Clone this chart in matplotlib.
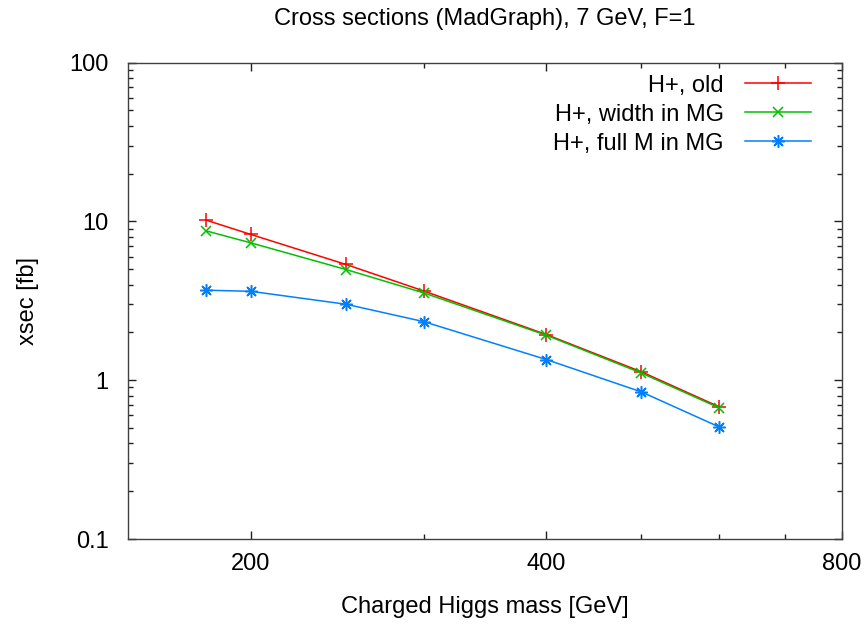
import matplotlib
matplotlib.use("Agg")
import matplotlib.pyplot as plt
from matplotlib.ticker import FixedLocator, NullFormatter

plt.rcParams['font.family'] = ['Liberation Sans', 'DejaVu Sans']

# charged Higgs masses [GeV] and cross sections [fb]
mass = [180, 200, 250, 300, 400, 500, 600]
xsec_old = [10.2, 8.28, 5.36, 3.65, 1.94, 1.13, 0.68]
xsec_width = [8.73, 7.33, 4.98, 3.55, 1.92, 1.11, 0.67]
xsec_full = [3.69, 3.63, 3.01, 2.34, 1.35, 0.844, 0.508]

labels = ["H+, old", "H+, width in MG", "H+, full M in MG"]
colors = ["#ff0000", "#00c000", "#0080ff"]

x_major = [200, 400, 800]
x_minor = [300, 500, 600, 700]

fig = plt.figure(figsize=(8.65, 6.25), dpi=100)
ax = fig.add_axes([0.1483, 0.1376, 0.8248, 0.7621])

ax.plot(mass, xsec_old, color=colors[0], lw=1.1, marker='+', ms=10, mew=1.1, label=labels[0])
ax.plot(mass, xsec_width, color=colors[1], lw=1.1, marker='x', ms=7.5, mew=1.1, label=labels[1])
ax.plot(mass, xsec_full, color=colors[2], lw=1.1, marker=(8, 2, 0), ms=9, mew=1.1, label=labels[2])

ax.set_xscale('log')
ax.set_yscale('log')
ax.set_xlim(150, 800)
ax.set_ylim(0.1, 100)

ax.xaxis.set_major_locator(FixedLocator(x_major))
ax.xaxis.set_minor_locator(FixedLocator(x_minor))
ax.xaxis.set_minor_formatter(NullFormatter())
ax.set_xticklabels([str(v) for v in x_major])
ax.set_yticks([0.1, 1, 10, 100])
ax.set_yticklabels(["0.1", "1", "10", "100"])

fs = 17
ax.tick_params(which='both', direction='in', top=True, right=True, labelsize=fs, color='#202020')
ax.tick_params(which='major', length=6, width=1)
ax.tick_params(which='minor', length=3.5, width=1)
ax.tick_params(axis='x', pad=10)
ax.tick_params(axis='y', pad=14)
for s in ax.spines.values():
    s.set_color('#404040')
    s.set_linewidth(1)

ax.set_title("Cross sections (MadGraph), 7 GeV, F=1", fontsize=fs, pad=27)
ax.set_xlabel("Charged Higgs mass [GeV]", fontsize=fs, labelpad=15)
ax.set_ylabel("xsec [fb]", fontsize=fs, labelpad=22)

ax.legend(loc='upper right', bbox_to_anchor=(0.97, 0.995), frameon=False, markerfirst=False,
          fontsize=fs, handlelength=2.8, handletextpad=0.9, labelspacing=0.3, borderaxespad=0)

fig.savefig("out.png", dpi=100)
